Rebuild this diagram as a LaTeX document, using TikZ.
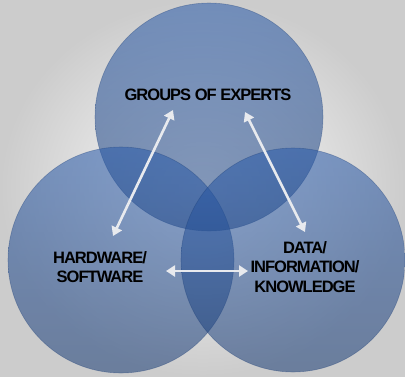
\documentclass[tikz,border=0pt]{standalone}
\usepackage{fontspec}
\setmainfont{Liberation Sans}
\usetikzlibrary{arrows.meta}
\definecolor{vennblue}{RGB}{40,90,170}
\definecolor{venndark}{RGB}{28,62,118}
\definecolor{arrowc}{RGB}{232,234,238}
\tikzset{
  venn/.style={shade, top color=vennblue, bottom color=venndark, fill opacity=0.55, draw=venndark, draw opacity=0.35, line width=0.6pt},
  lab/.style={font=\bfseries\fontsize{16.5}{19.5}\selectfont\addfontfeatures{LetterSpace=-6}, align=center, text=black, inner sep=0pt},
  twoway/.style={draw=arrowc, line width=2.6pt, {Triangle[length=9pt,width=11pt]}-{Triangle[length=9pt,width=11pt]}}
}
\begin{document}
\begin{tikzpicture}[x=1pt,y=-1pt]
\useasboundingbox (0,0) rectangle (405,376);
\shade[inner color=white!97!gray, outer color=black!20] (0,0) rectangle (405,376);
\shade[venn] (209,117) circle (114);
\shade[venn] (121,260) circle (113);
\shade[venn] (293,260) circle (112);
\node[lab] (ge) at (208,95) {GROUPS OF EXPERTS};
\node[lab] (hw) at (100,267) {HARDWARE/\\SOFTWARE};
\node[lab] (di) at (305,267) {DATA/\\INFORMATION/\\KNOWLEDGE};
\coordinate (a1) at (113,236);
\coordinate (a2) at (173,110);
\coordinate (b1) at (245,112);
\coordinate (b2) at (305,232);
\coordinate (c1) at (166,271);
\coordinate (c2) at (248,271);
\draw[twoway] (a1) -- (a2);
\draw[twoway] (b1) -- (b2);
\draw[twoway] (c1) -- (c2);
\end{tikzpicture}
\end{document}
